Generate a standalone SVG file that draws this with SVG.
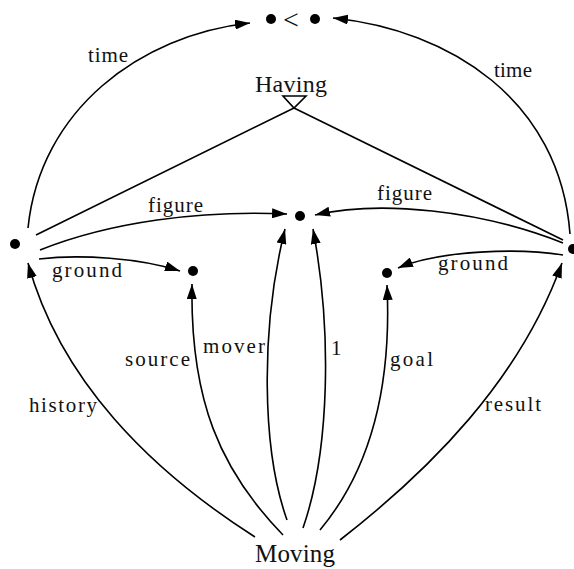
<svg xmlns="http://www.w3.org/2000/svg" width="574" height="569" viewBox="0 0 574 569">
<style>
.e{fill:none;stroke:#000;stroke-width:1.6}
.a{marker-end:url(#ah)}
.l{font-family:"Liberation Serif","Times New Roman",serif;font-size:21px;fill:#111}
.n{font-family:"Liberation Serif","Times New Roman",serif;fill:#111}
.d{fill:#000}
</style>
<defs>
<marker id="ah" viewBox="0 0 15 10" refX="15" refY="5" markerWidth="15" markerHeight="10" markerUnits="userSpaceOnUse" orient="auto">
<path d="M0,0 L15,5 L0,10 z" fill="#000"/>
</marker>
</defs>
<rect width="574" height="569" fill="#fff"/>
<g id="connectors">
<path class="e a" d="M28,228 C40,110 140,35 250,23"/>
<path class="e a" d="M570,234 C560,100 450,30 333,18"/>
<path class="e" d="M294,108 L36,235"/>
<path class="e" d="M294,108 L563,240"/>
<path class="e a" d="M40,250 C110,222 200,210 287,214"/>
<path class="e a" d="M563,243 C480,210 380,200 315,215"/>
<path class="e a" d="M39,259 C80,254 140,258 180,271"/>
<path class="e a" d="M563,255 C520,248 440,250 398,268"/>
<path class="e a" d="M255,537 C150,470 60,380 28,263"/>
<path class="e a" d="M283,535 C220,470 190,400 192,284"/>
<path class="e a" d="M287,520 C262,450 260,330 285,229"/>
<path class="e a" d="M303,528 C330,450 332,330 313,229"/>
<path class="e a" d="M320,530 C370,470 392,390 387,285"/>
<path class="e a" d="M340,540 C430,470 520,380 562,263"/>
<text class="l" x="88" y="62" textLength="40" lengthAdjust="spacing">time</text>
<text class="l" x="494" y="77" textLength="38" lengthAdjust="spacing">time</text>
<text class="l" x="148" y="212" textLength="55" lengthAdjust="spacing">figure</text>
<text class="l" x="377" y="200" textLength="55" lengthAdjust="spacing">figure</text>
<text class="l" x="52" y="277" textLength="70" lengthAdjust="spacing">ground</text>
<text class="l" x="438" y="270" textLength="70" lengthAdjust="spacing">ground</text>
<text class="l" x="125" y="366" textLength="65" lengthAdjust="spacing">source</text>
<text class="l" x="203" y="353" textLength="62" lengthAdjust="spacing">mover</text>
<text class="l" x="331" y="355">1</text>
<text class="l" x="390" y="366" textLength="43" lengthAdjust="spacing">goal</text>
<text class="l" x="29" y="412" textLength="68" lengthAdjust="spacing">history</text>
<text class="l" x="485" y="411" textLength="56" lengthAdjust="spacing">result</text>
</g>
<g id="before">
<circle class="d" cx="271" cy="19" r="5"/>
<text class="n" x="291" y="29" font-size="28" text-anchor="middle">&lt;</text>
<circle class="d" cx="315" cy="19" r="5"/>
</g>
<g id="having">
<text class="n" x="255" y="92" font-size="24" textLength="72" lengthAdjust="spacing">Having</text>
<path d="M283,96 L306,96 L294,108 z" fill="#fff" stroke="#000" stroke-width="1.6"/>
</g>
<g id="left"><circle class="d" cx="15" cy="244" r="5"/></g>
<g id="right"><circle class="d" cx="573" cy="249" r="5"/></g>
<g id="center"><circle class="d" cx="300" cy="216" r="5"/></g>
<g id="src"><circle class="d" cx="193" cy="271" r="5"/></g>
<g id="goal"><circle class="d" cx="387" cy="273" r="5"/></g>
<g id="moving">
<text class="n" x="255" y="562" font-size="25" textLength="80" lengthAdjust="spacing">Moving</text>
</g>
</svg>
